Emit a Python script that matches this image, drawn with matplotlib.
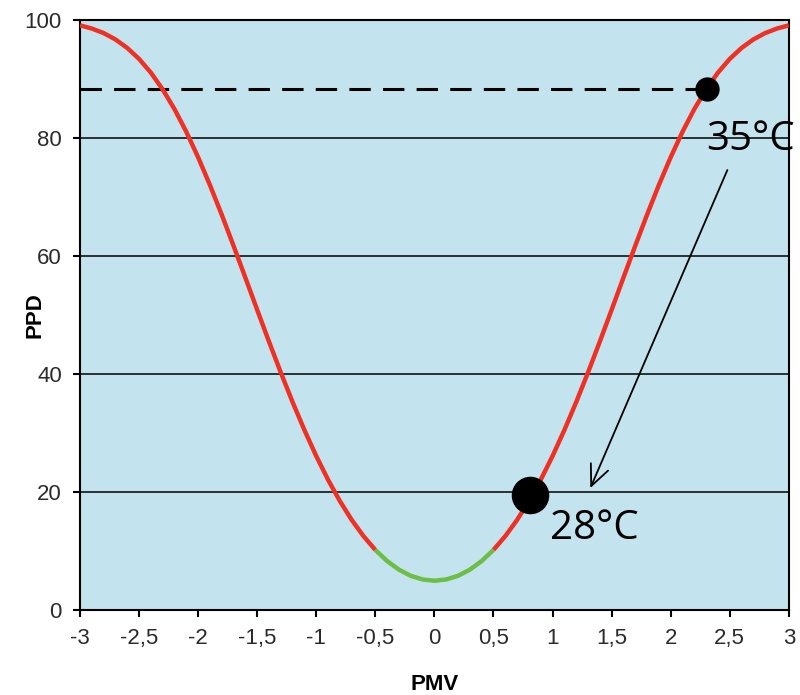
import matplotlib
matplotlib.use("Agg")
import matplotlib.pyplot as plt
import numpy as np

# PPD curve (PMV step 0.1)
pmv = [-3.0, -2.9, -2.8, -2.7, -2.6, -2.5, -2.4, -2.3, -2.2, -2.1,
       -2.0, -1.9, -1.8, -1.7, -1.6, -1.5, -1.4, -1.3, -1.2, -1.1,
       -1.0, -0.9, -0.8, -0.7, -0.6, -0.5, -0.4, -0.3, -0.2, -0.1,
       0.0, 0.1, 0.2, 0.3, 0.4, 0.5, 0.6, 0.7, 0.8, 0.9,
       1.0, 1.1, 1.2, 1.3, 1.4, 1.5, 1.6, 1.7, 1.8, 1.9,
       2.0, 2.1, 2.2, 2.3, 2.4, 2.5, 2.6, 2.7, 2.8, 2.9, 3.0]
ppd = [99.12, 98.58, 97.81, 96.73, 95.29, 93.43, 91.10, 88.26, 84.92, 81.07,
       76.76, 72.05, 67.02, 61.75, 56.35, 50.90, 45.51, 40.27, 35.25, 30.52,
       26.12, 22.10, 18.49, 15.30, 12.55, 10.22, 8.33, 6.87, 5.83, 5.21,
       5.00, 5.21, 5.83, 6.87, 8.33, 10.22, 12.55, 15.30, 18.49, 22.10,
       26.12, 30.52, 35.25, 40.27, 45.51, 50.90, 56.35, 61.75, 67.02, 72.05,
       76.76, 81.07, 84.92, 88.26, 91.10, 93.43, 95.29, 96.73, 97.81, 98.58, 99.12]

comfort_limit = 0.5
hot_point = (2.31, 88.26)    # 35 °C
cool_point = (0.81, 19.5)    # 28 °C
hot_label = "35°C"
cool_label = "28°C"

x_ticks = [-3, -2.5, -2, -1.5, -1, -0.5, 0, 0.5, 1, 1.5, 2, 2.5, 3]
x_ticklabels = ["-3", "-2,5", "-2", "-1,5", "-1", "-0,5", "0", "0,5", "1", "1,5", "2", "2,5", "3"]
y_ticks = [0, 20, 40, 60, 80, 100]

RED = "#ee3124"
GREEN = "#6dbe45"
BG = "#c3e4ee"

plt.rcParams["font.family"] = ["Liberation Sans", "DejaVu Sans"]

fig = plt.figure(figsize=(8, 6.95), dpi=100)
ax = fig.add_axes([0.1, 0.122, 0.886, 0.849])
ax.set_facecolor(BG)

x = np.array(pmv)
y = np.array(ppd)
left = x <= -comfort_limit
right = x >= comfort_limit
mid = np.abs(x) <= comfort_limit + 1e-9

for yy in y_ticks[1:-1]:
    ax.axhline(yy, color="black", lw=1.1, zorder=1)

ax.plot(x[left], y[left], color=RED, lw=3.2, solid_capstyle="butt", zorder=3)
ax.plot(x[right], y[right], color=RED, lw=3.2, solid_capstyle="butt", zorder=3)
ax.plot(x[mid], y[mid], color=GREEN, lw=3.2, solid_capstyle="butt", zorder=3)

ax.plot([-3, hot_point[0]], [hot_point[1], hot_point[1]], color="black", lw=2.2,
        linestyle=(0, (7, 4)), zorder=2)
ax.plot(*hot_point, "o", color="black", ms=16.5, zorder=5)
ax.plot(*cool_point, "o", color="black", ms=26, zorder=5)

ax.text(2.30, 78, hot_label, fontsize=29, family=["Open Sans", "DejaVu Sans"], zorder=6)
ax.text(0.98, 12.0, cool_label, fontsize=29, family=["Open Sans", "DejaVu Sans"], zorder=6)

ax.annotate("", xy=(1.32, 20.7), xytext=(2.48, 74.6),
            arrowprops=dict(arrowstyle="->,head_length=1.0,head_width=0.45",
                            mutation_scale=15, color="black", lw=1.3,
                            shrinkA=0, shrinkB=0), zorder=6)

ax.set_xlim(-3, 3)
ax.set_ylim(0, 100)
ax.set_xticks(x_ticks)
ax.set_xticklabels(x_ticklabels)
ax.set_yticks(y_ticks)
ax.tick_params(axis="both", direction="out", length=5, width=1.5, labelsize=16,
               labelcolor="#2b2b2b", color="black")
ax.tick_params(axis="x", pad=8)
ax.tick_params(axis="y", pad=8)
for s in ax.spines.values():
    s.set_color("black")
    s.set_linewidth(1.5)

ax.set_xlabel("PMV", fontsize=16, fontweight="bold")
ax.set_ylabel("PPD", fontsize=16, fontweight="bold")
ax.xaxis.set_label_coords(0.5, -0.108)
ax.yaxis.set_label_coords(-0.048, 0.5)

fig.savefig("out.png", dpi=100)
